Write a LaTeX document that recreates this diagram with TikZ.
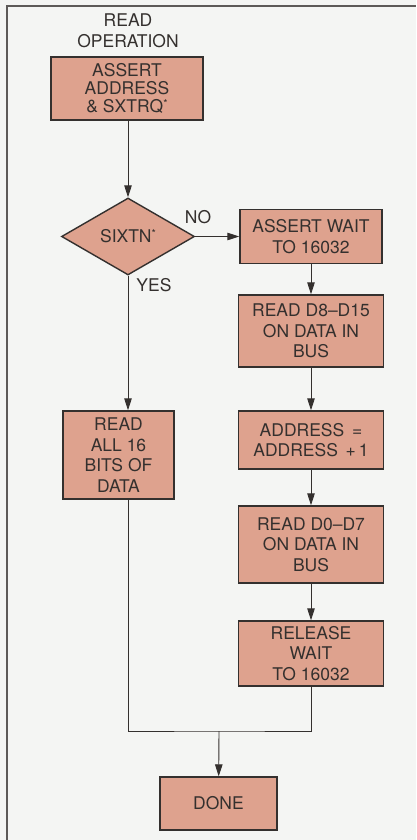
\documentclass[tikz,border=0pt]{standalone}
\usepackage{fontspec}
\setmainfont{TeX Gyre Heros}
\usepackage{tikz}
\usetikzlibrary{arrows.meta,positioning,shapes.geometric}
\definecolor{paper}{RGB}{244,245,243}
\definecolor{boxfill}{RGB}{222,162,142}
\definecolor{ink}{RGB}{52,48,46}
\newcommand{\supstar}{\smash{\raisebox{0.3em}{\fontsize{11}{11}\selectfont *}}}

\begin{document}
\begin{tikzpicture}[x=1pt,y=-1pt,
    every node/.style={text=ink,font=\fontsize{17.5}{20.5}\selectfont,align=center},
    stepbox/.style={draw=ink,line width=1.4pt,fill=boxfill,inner sep=0pt},
    decide/.style={diamond,draw=ink,line width=1.4pt,fill=boxfill,inner sep=0pt,aspect=1.73},
    flow/.style={draw=ink,line width=0.9pt},
    arr/.style={flow,-{Triangle[length=12pt,width=7.5pt]}}]
  % page and frame
  \fill[paper] (0,0) rectangle (416,840);
  \useasboundingbox (0,0) rectangle (416,840);
  \draw[ink!80,line width=1.8pt] (7,840) -- (7,6) -- (416,6);
  % left column
  \node (title) at (128,31) {READ\\OPERATION};
  \node[stepbox,minimum width=152pt,minimum height=63pt,
        font=\fontsize{17.5}{18}\selectfont] (assert) at (127,88.5)
    {ASSERT\\ADDRESS\\\& SXTRQ\supstar};
  \node[decide,minimum width=133pt,minimum height=77pt] (sixtn) at (128,236.5)
    {SIXTN\supstar};
  \node[stepbox,minimum width=111pt,minimum height=88pt] (readall) at (118.5,455)
    {READ\\ALL 16\\BITS OF\\DATA};
  % right column
  \node[stepbox,minimum width=142pt,minimum height=54pt] (wait) at (311,236.5)
    {ASSERT WAIT\\TO 16032};
  \node[stepbox,minimum width=145pt,minimum height=72pt] (rdhigh) at (311,331)
    {READ D8--D15\\ON DATA IN\\BUS};
  \node[stepbox,minimum width=145pt,minimum height=58pt] (addr) at (311,440)
    {ADDRESS \,=\\ADDRESS \,+\,1};
  \node[stepbox,minimum width=145pt,minimum height=77pt] (rdlow) at (311,544.5)
    {READ D0--D7\\ON DATA IN\\BUS};
  \node[stepbox,minimum width=145pt,minimum height=65pt] (release) at (311,653.5)
    {RELEASE\\WAIT\\TO 16032};
  % end
  \coordinate (join) at (219,731);
  \node[stepbox,minimum width=117pt,minimum height=53pt] (done) at (218.5,803.5) {DONE};
  % connectors
  \draw[arr] (assert.south -| sixtn.north) -- (sixtn.north);
  \draw[arr] (sixtn.east) -- (sixtn.east -| wait.west);
  \draw[arr] (sixtn.south) -- (sixtn.south |- readall.north);
  \draw[arr] (wait) -- (rdhigh);
  \draw[arr] (rdhigh) -- (addr);
  \draw[arr] (addr) -- (rdlow);
  \draw[arr] (rdlow) -- (release);
  \draw[flow] (sixtn.south |- readall.south) |- (join) -| (release.south);
  \draw[arr] (join) -- (done);
  % branch labels
  \node (no) at (198,217) {NO};
  \node (yes) at (154,285) {YES};
\end{tikzpicture}
\end{document}
